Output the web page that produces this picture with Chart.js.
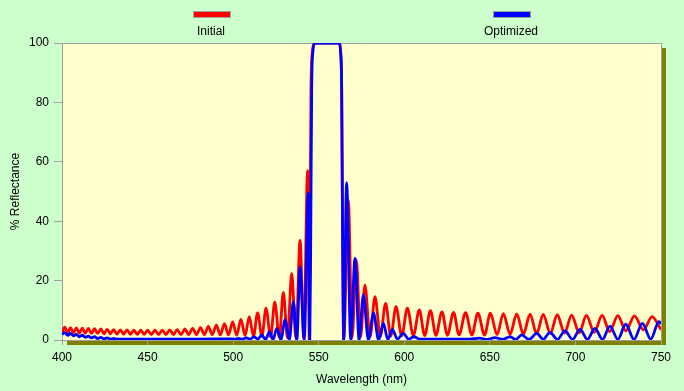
<!DOCTYPE html>
<html>
<head>
<meta charset="utf-8">
<script src="https://cdn.jsdelivr.net/npm/chart.js@4/dist/chart.umd.min.js"></script>
<style>
  html, body { margin: 0; padding: 0; background: #ccffcc; }
  #wrap { position: relative; width: 684px; height: 391px; overflow: hidden; font-family: "Liberation Sans", Arial, sans-serif; }
  canvas { position: absolute; left: 0; top: 0; }
  .sw { position: absolute; width: 36px; height: 5px; border: 1px solid #a0a0a0; top: 11px; }
  .lt { position: absolute; top: 24px; font-size: 12px; color: #000; width: 120px; text-align: center; }
</style>
</head>
<body>
<div id="wrap">
  <canvas id="c" width="684" height="391"></canvas>
  <div class="sw" style="left:193px;background:#ff0000"></div>
  <div class="lt" style="left:151px">Initial</div>
  <div class="sw" style="left:493px;background:#0000ff"></div>
  <div class="lt" style="left:451px">Optimized</div>
</div>
<script>
// X ticks
const xTicks = [400, 450, 500, 550, 600, 650, 700, 750];
const yTicks = [0, 20, 40, 60, 80, 100];

// Initial design (red): wavelength (nm) and % reflectance at peaks / troughs
const initialNm = [
  400.0, 401.6, 403.3, 405.0, 406.7, 408.4, 410.1, 411.9, 413.6, 415.4,
  417.2, 419.0, 420.8, 422.7, 424.5, 426.4, 428.3, 430.2, 432.1, 434.1,
  436.0, 438.0, 440.0, 442.0, 444.0, 446.0, 448.0, 450.1, 452.2, 454.3,
  456.4, 458.6, 460.7, 462.9, 465.1, 467.3, 469.5, 471.8, 474.0, 476.3,
  478.6, 480.9, 483.2, 485.5, 487.8, 490.2, 492.5, 494.9, 497.3, 499.7,
  502.1, 504.5, 507.0, 509.4, 511.9, 514.3, 516.8, 519.2, 521.9, 524.3,
  527.0, 529.3, 531.8, 534.2, 536.7, 539.1, 541.3, 543.5, 544.5, 545.0,
  545.5, 546.3, 547.3, 548.5, 561.0, 562.0, 562.8, 563.4, 563.9, 564.6,
  567.3, 569.5, 572.0, 574.4, 577.0, 580.0, 582.9, 586.0, 589.1, 592.1,
  595.2, 598.5, 601.8, 605.3, 608.8, 611.9, 615.3, 618.5, 622.0, 625.2,
  628.8, 632.0, 635.8, 639.5, 643.0, 646.9, 650.3, 654.2, 657.9, 661.8,
  665.7, 669.6, 673.5, 677.3, 681.2, 685.3, 689.4, 693.6, 697.8, 702.2,
  706.4, 711.0, 715.6, 720.0, 724.8, 729.5, 734.5, 739.7, 744.8, 750.0
];
const initialPct = [
  2.5, 4.3, 2.4, 4.2, 2.4, 4.1, 2.3, 4.0, 2.3, 3.9,
  2.2, 3.8, 2.2, 3.7, 2.1, 3.6, 2.1, 3.5, 2.0, 3.4,
  2.0, 3.4, 1.9, 3.3, 1.9, 3.3, 1.9, 3.3, 1.8, 3.3,
  1.8, 3.3, 1.8, 3.4, 1.8, 3.5, 1.8, 3.7, 1.8, 3.9,
  1.8, 4.2, 1.8, 4.6, 1.8, 5.0, 1.7, 5.5, 1.7, 6.1,
  1.6, 6.9, 1.5, 7.9, 1.3, 9.1, 1.2, 10.7, 1.0, 12.8,
  0.9, 16.0, 0.7, 22.4, 0.5, 33.5, 0.3, 57.0, 0.0, 40.0,
  85.0, 97.0, 99.8, 100, 100, 99.8, 97.0, 85.0, 40.0, 0.0,
  47.0, 0.8, 27.0, 0.9, 18.5, 1.0, 14.6, 1.2, 12.3, 1.3,
  11.2, 1.4, 10.7, 1.5, 10.1, 1.5, 9.9, 1.6, 9.5, 1.6,
  9.3, 1.7, 9.2, 1.7, 9.0, 1.7, 9.0, 1.8, 8.9, 1.9,
  8.8, 2.0, 8.7, 2.1, 8.6, 2.2, 8.5, 2.3, 8.4, 2.4,
  8.3, 2.6, 8.3, 2.8, 8.2, 3.1, 8.1, 3.4, 7.9, 3.5
];

// Optimized design (blue)
const optimizedNm = [
  400.0, 401.6, 403.3, 405.0, 406.7, 408.4, 410.1, 411.9, 413.6, 415.4,
  417.2, 419.0, 420.8, 422.7, 424.5, 426.4, 428.3, 430.2, 432.1, 440.0,
  460.0, 480.0, 498.7, 500.9, 503.2, 505.4, 507.7, 509.9, 512.2, 514.5,
  516.7, 519.0, 521.2, 523.3, 525.5, 528.0, 530.3, 532.8, 535.2, 537.2,
  539.1, 541.5, 543.9, 544.8, 545.4, 545.9, 546.6, 547.6, 548.8, 561.0,
  562.0, 562.8, 563.4, 563.9, 564.6, 566.3, 568.7, 571.2, 573.6, 576.1,
  579.0, 582.0, 585.0, 587.8, 590.4, 593.0, 596.0, 599.4, 602.5, 605.7,
  609.0, 620.0, 630.0, 638.0, 644.0, 648.5, 653.0, 657.5, 661.8, 665.2,
  668.6, 673.0, 677.4, 681.2, 685.1, 689.5, 693.9, 698.3, 702.7, 707.0,
  711.4, 715.8, 720.2, 724.8, 729.4, 734.2, 739.1, 744.0, 748.8, 750.0
];
const optimizedPct = [
  1.9, 2.5, 1.6, 2.2, 1.4, 1.9, 1.1, 1.6, 0.9, 1.3,
  0.7, 1.1, 0.5, 0.9, 0.4, 0.7, 0.3, 0.5, 0.3, 0.3,
  0.3, 0.3, 0.4, 0.3, 0.5, 0.3, 0.7, 0.3, 1.1, 0.3,
  1.7, 0.2, 2.8, 0.1, 3.9, 0.0, 7.0, 0.0, 12.9, 0.0,
  24.7, 0.0, 49.5, 0.0, 40.0, 85.0, 97.0, 99.8, 100, 100,
  99.8, 97.0, 85.0, 40.0, 0.0, 53.0, 0.0, 27.5, 0.0, 15.2,
  0.0, 9.0, 0.0, 5.6, 0.2, 3.6, 0.3, 2.2, 0.3, 1.1,
  0.3, 0.3, 0.3, 0.3, 0.6, 0.2, 0.8, 0.2, 1.1, 0.2,
  1.7, 0.2, 2.2, 0.2, 2.6, 0.2, 3.1, 0.2, 3.6, 0.2,
  3.9, 0.2, 4.7, 0.2, 5.3, 0.2, 5.6, 0.3, 6.2, 5.5
];

const toPts = (xs, ys) => xs.map((x, i) => ({ x: x, y: ys[i] }));

const framePlugin = {
  id: 'frame',
  beforeDraw(chart) {
    const { ctx, chartArea: a } = chart;
    ctx.save();
    ctx.fillStyle = '#808000';
    ctx.fillRect(a.left + 5, a.top + 5, a.right - a.left, a.bottom - a.top);
    ctx.fillStyle = '#ffffcc';
    ctx.fillRect(a.left, a.top, a.right - a.left, a.bottom - a.top);
    ctx.strokeStyle = '#a0a0a0';
    ctx.lineWidth = 1;
    ctx.beginPath();
    ctx.moveTo(a.left, a.top + 0.5);
    ctx.lineTo(a.right + 0.5, a.top + 0.5);
    ctx.lineTo(a.right + 0.5, a.bottom);
    ctx.stroke();
    ctx.restore();
  }
};

const font = { family: '"Liberation Sans", Arial, sans-serif', size: 12 };

new Chart(document.getElementById('c'), {
  type: 'scatter',
  data: {
    datasets: [
      {
        label: 'Optimized',
        data: toPts(optimizedNm, optimizedPct),
        showLine: true,
        borderColor: '#0000ff',
        backgroundColor: '#0000ff',
        borderWidth: 2.8,
        pointRadius: 0,
        cubicInterpolationMode: 'monotone',
        order: 0
      },
      {
        label: 'Initial',
        data: toPts(initialNm, initialPct),
        showLine: true,
        borderColor: '#ff0000',
        backgroundColor: '#ff0000',
        borderWidth: 2.8,
        pointRadius: 0,
        cubicInterpolationMode: 'monotone',
        order: 1
      }
    ]
  },
  options: {
    responsive: false,
    devicePixelRatio: 1,
    animation: false,
    layout: { padding: { left: 0, top: 43, right: 23, bottom: 0 } },
    plugins: { legend: { display: false }, tooltip: { enabled: false } },
    scales: {
      x: {
        type: 'linear',
        min: 400, max: 750,
        afterFit(s) { s.height = 51; },
        afterBuildTicks(s) { s.ticks = xTicks.map(v => ({ value: v })); },
        ticks: { font: font, color: '#000', padding: 5, maxRotation: 0 },
        grid: { drawOnChartArea: false, drawTicks: true, tickLength: 5, color: '#a0a0a0' },
        border: { display: true, color: '#a0a0a0' },
        title: { display: true, text: 'Wavelength (nm)', font: font, color: '#000', padding: { top: 4, bottom: 4 } }
      },
      y: {
        type: 'linear',
        min: 0, max: 100,
        afterFit(s) { s.width = 62; },
        afterBuildTicks(s) { s.ticks = yTicks.map(v => ({ value: v })); },
        ticks: { font: font, color: '#000', padding: 5 },
        grid: { drawOnChartArea: false, drawTicks: true, tickLength: 8, color: '#a0a0a0' },
        border: { display: true, color: '#a0a0a0' },
        title: { display: true, text: '% Reflectance', font: font, color: '#000', padding: { top: 8, bottom: 4 } }
      }
    }
  },
  plugins: [framePlugin]
});
</script>
</body>
</html>
